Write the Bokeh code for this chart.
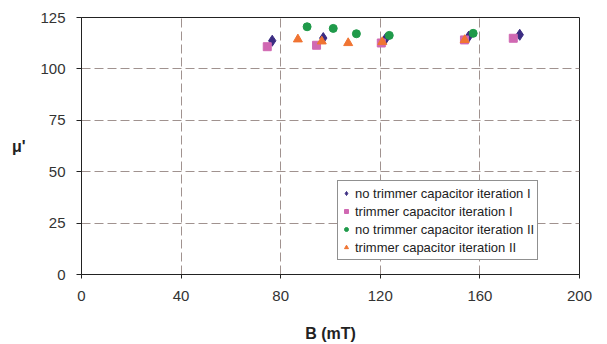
from bokeh.plotting import figure
from bokeh.models import Range1d, FixedTicker, Label, Legend, LegendItem
from bokeh.embed import file_html
from bokeh.resources import INLINE

# data
x_notrim_1 = [76.6, 97.1, 122.1, 155.5, 176.0]
y_notrim_1 = [113.7, 115.0, 114.6, 115.7, 116.6]
x_trim_1 = [74.6, 94.4, 120.4, 153.8, 173.4]
y_trim_1 = [110.8, 111.5, 112.6, 114.1, 114.9]
x_notrim_2 = [90.6, 101.1, 110.4, 123.6, 157.3]
y_notrim_2 = [120.5, 119.7, 117.1, 116.3, 117.3]
x_trim_2 = [86.9, 96.5, 107.1, 120.8, 153.9]
y_trim_2 = [114.4, 113.4, 112.6, 113.1, 114.1]
series_names = ["no trimmer capacitor iteration I", "trimmer capacitor iteration I",
                "no trimmer capacitor iteration II", "trimmer capacitor iteration II"]
x_ticks = [0, 40, 80, 120, 160, 200]
y_ticks = [0, 25, 50, 75, 100, 125]

FONT = "Liberation Sans"
p = figure(width=599, height=344, output_backend="svg", toolbar_location=None,
           x_range=Range1d(0, 200), y_range=Range1d(0, 125),
           min_border_left=81, min_border_right=20, min_border_top=17, min_border_bottom=69)
p.outline_line_color = "#222222"
p.outline_line_width = 1
p.background_fill_color = "white"
p.border_fill_color = "white"

for ax, ticks in ((p.xaxis[0], x_ticks), (p.yaxis[0], y_ticks)):
    ax.ticker = FixedTicker(ticks=ticks)
    ax.major_label_text_font = FONT
    ax.major_label_text_font_size = "15px"
    ax.major_label_text_color = "#333333"
    ax.axis_line_color = "#222222"
    ax.major_tick_line_color = "#222222"
    ax.major_tick_in = 0
    ax.minor_tick_line_color = None
    ax.axis_label_text_font = FONT
    ax.axis_label_text_font_size = "16px"
    ax.axis_label_text_font_style = "bold"
    ax.axis_label_text_color = "#222222"
p.xaxis.major_tick_out = 4
p.yaxis.major_tick_out = 5
p.xaxis.major_label_standoff = 12
p.yaxis.major_label_standoff = 11
p.xaxis.axis_label = "B (mT)"
p.xaxis.axis_label_standoff = 21

yax = p.yaxis[0]
if "axis_label_orientation" in yax.properties():
    yax.axis_label = "μ'"
    yax.axis_label_orientation = "horizontal"
    yax.axis_label_standoff = 12
else:
    p.add_layout(Label(x=20, y=128, x_units="screen", y_units="screen", text="μ'",
                       text_font=FONT, text_font_size="16px", text_font_style="bold",
                       text_color="#222222", text_align="center", text_baseline="middle"))

for g in (p.xgrid[0], p.ygrid[0]):
    g.grid_line_color = "#a0928f"
    g.grid_line_dash = "9 4"
    g.grid_line_width = 1

r1 = p.scatter(x_notrim_1, y_notrim_1, marker="diamond", size=11, color="#3b2c82")
r2 = p.scatter(x_trim_1, y_trim_1, marker="square", size=8, color="#d068b2")
r3 = p.scatter(x_notrim_2, y_notrim_2, marker="circle", size=8, color="#1f9a4a")
r4 = p.scatter(x_trim_2, y_trim_2, marker="triangle", size=9, color="#f07432")

legend = Legend(items=[LegendItem(label=n, renderers=[r]) for n, r in
                       zip(series_names, [r1, r2, r3, r4])],
                location=(256, 14), orientation="vertical")
legend.label_text_font = FONT
legend.label_text_font_size = "13px"
legend.label_text_color = "#222222"
legend.border_line_color = "#222222"
legend.border_line_width = 1
legend.background_fill_color = "white"
legend.background_fill_alpha = 1
legend.padding = 3
legend.spacing = 0
legend.margin = 0
legend.label_height = 18
legend.glyph_height = 18
legend.glyph_width = 10
legend.label_standoff = 4
p.add_layout(legend)

open("out.html", "w").write(file_html(p, INLINE))
